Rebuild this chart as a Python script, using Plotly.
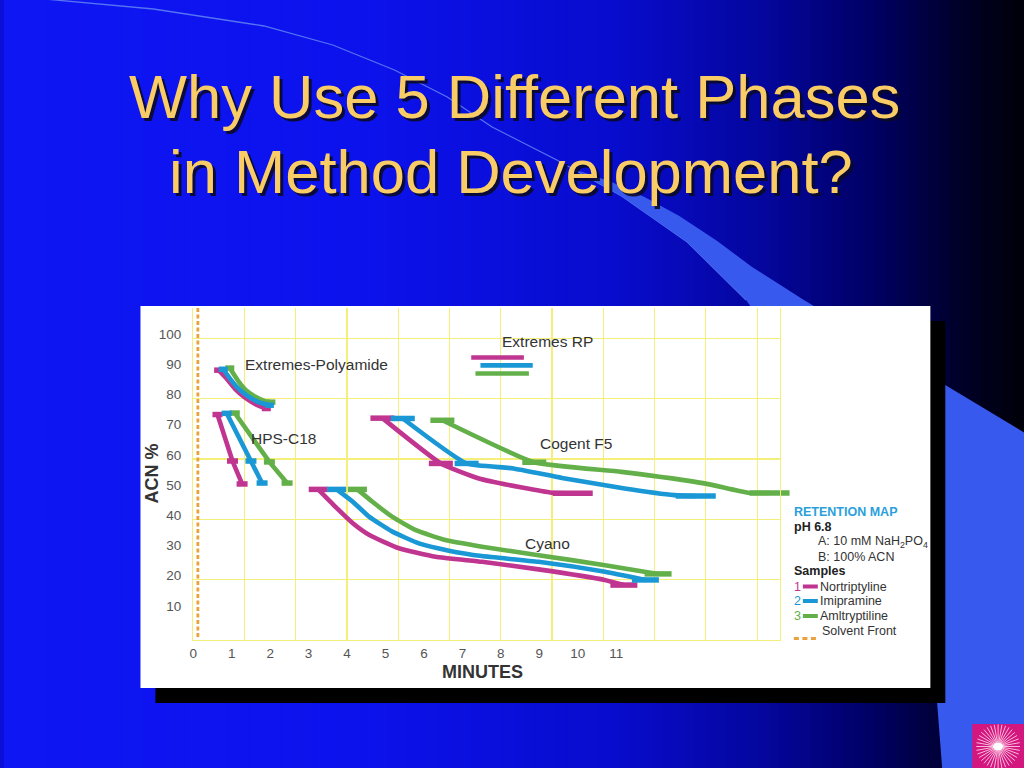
import math
import plotly.graph_objects as go

W, H = 1024, 768

# ---------------- data ----------------
SAMPLES = ["Nortriptyline", "Imipramine", "Amltryptiline"]
SAMPLE_NO = ["1", "2", "3"]

TICKS_X = [0, 1, 2, 3, 4, 5, 6, 7, 8, 9, 10, 11]
TICKS_Y = [10, 20, 30, 40, 50, 60, 70, 80, 90, 100]

polyamide_x = {
    "Nortriptyline": [0.66, 0.86, 1.08, 1.34, 1.64, 1.90],
    "Imipramine":    [0.78, 0.92, 1.13, 1.40, 1.70, 1.98],
    "Amltryptiline": [0.95, 1.17, 1.37, 1.63, 1.87, 2.02],
}
polyamide_y = {
    "Nortriptyline": [89.4, 86.7, 83.3, 80.4, 78.0, 76.7],
    "Imipramine":    [89.7, 87.2, 83.9, 81.0, 78.8, 77.8],
    "Amltryptiline": [90.1, 85.8, 82.8, 80.5, 79.1, 78.8],
}

hps_x = {
    "Nortriptyline": [0.63, 1.02, 1.27],
    "Imipramine":    [0.87, 1.50, 1.79],
    "Amltryptiline": [1.08, 1.98, 2.44],
}
hps_y = {
    "Nortriptyline": [74.7, 59.3, 51.7],
    "Imipramine":    [75.1, 59.3, 52.0],
    "Amltryptiline": [75.2, 59.0, 52.0],
}

rp_x = {
    "Nortriptyline": [7.23, 8.60],
    "Imipramine":    [7.47, 8.83],
    "Amltryptiline": [7.34, 8.73],
}
rp_y = {
    "Nortriptyline": [93.6, 93.6],
    "Imipramine":    [91.0, 91.0],
    "Amltryptiline": [88.3, 88.3],
}

cogent_x = {
    "Nortriptyline": [4.92, 6.44, 7.43, 8.55, 9.33, 9.87],
    "Imipramine":    [5.45, 7.11, 8.29, 9.59, 11.22, 12.51, 13.07],
    "Amltryptiline": [6.48, 8.87, 11.14, 13.29, 14.43, 14.99],
}
cogent_y = {
    "Nortriptyline": [73.5, 58.5, 53.5, 50.5, 48.8, 48.6],
    "Imipramine":    [73.4, 58.5, 56.9, 53.7, 50.2, 48.0, 47.7],
    "Amltryptiline": [72.8, 58.9, 55.7, 51.9, 48.8, 48.7],
}

cyano_x = {
    "Nortriptyline": [3.25, 3.70, 4.15, 4.58, 5.35, 6.30, 7.51, 8.98, 10.70, 11.20],
    "Imipramine":    [3.73, 4.15, 4.58, 5.18, 5.87, 6.65, 7.51, 8.98, 10.71, 11.76],
    "Amltryptiline": [4.27, 4.66, 5.18, 5.79, 6.56, 7.51, 8.98, 10.71, 12.09],
}
cyano_y = {
    "Nortriptyline": [49.9, 44.1, 38.7, 34.8, 30.4, 27.6, 25.9, 23.4, 19.9, 18.2],
    "Imipramine":    [49.9, 45.8, 40.8, 35.9, 32.0, 29.6, 27.8, 25.9, 22.6, 19.9],
    "Amltryptiline": [49.9, 45.8, 40.8, 36.4, 33.1, 30.9, 28.1, 24.8, 21.9],
}

SOLVENT_FRONT = 0.12
SOLVENT_Y = [1, 110]

PHASE_LABELS = ["Extremes-Polyamide", "Extremes RP", "HPS-C18", "Cogent F5", "Cyano"]
LABEL_X = [3.20, 9.22, 2.34, 9.95, 9.22]
LABEL_Y = [91.4, 99.0, 66.6, 65.2, 32.1]

TITLE_LINES = ["Why Use 5 Different Phases", "in Method Development?"]

# ---------------- styles ----------------
COLORS = {"Nortriptyline": "#bf3590", "Imipramine": "#1a98d5", "Amltryptiline": "#63b04a"}
ORANGE = "#eba23c"
GRID = "#f4ef7a"
FONT = "Liberation Sans, Arial, sans-serif"
TXT = "#333333"

# phase: (x dict, y dict, cap point indices, cap lengths px, line shape)
PHASES = [
    (polyamide_x, polyamide_y, [0, -1], [9, 9], "spline"),
    (hps_x, hps_y, [0, 1, 2], [10, 11, 11], "linear"),
    (rp_x, rp_y, [], [], "linear"),
    (cogent_x, cogent_y, [0, 1, -1], [24, 24, 40], "spline"),
    (cyano_x, cyano_y, [0, -1], [19, 27], "spline"),
]

X_RANGE = [0, 15.26]
Y_RANGE = [0, 110]


def px(x):
    return x / W


def py(y):
    return 1 - y / H


fig = go.Figure()

draw_order = ["Amltryptiline", "Nortriptyline", "Imipramine"]
for xs, ys, caps, capl, shape in PHASES:
    for s in draw_order:
        line = dict(color=COLORS[s], width=4.6, shape=shape)
        if shape == "spline":
            line["smoothing"] = 0.45
        fig.add_trace(go.Scatter(x=xs[s], y=ys[s], mode="lines", line=line,
                                 cliponaxis=False, hoverinfo="skip", showlegend=False))
        if caps:
            fig.add_trace(go.Scatter(
                x=[xs[s][i] for i in caps], y=[ys[s][i] for i in caps], mode="markers",
                marker=dict(symbol="line-ew", size=[c / 1.4 for c in capl], opacity=1,
                            line=dict(color=COLORS[s], width=5.5)),
                cliponaxis=False, hoverinfo="skip", showlegend=False))

fig.add_trace(go.Scatter(x=[SOLVENT_FRONT, SOLVENT_FRONT], y=SOLVENT_Y, mode="lines",
                         line=dict(color=ORANGE, width=2.8, dash="4px,2.5px"),
                         hoverinfo="skip", showlegend=False))
# invisible trace to create the grid overlay axes
fig.add_trace(go.Scatter(x=[None], y=[None], xaxis="x2", yaxis="y2", showlegend=False,
                         hoverinfo="skip"))

# ---------------- background shapes ----------------
shapes = []
stops = [(0.0, (14, 22, 244)), (0.35, (12, 18, 236)), (0.6, (8, 12, 205)),
         (0.75, (4, 6, 155)), (0.86, (0, 0, 95)), (0.94, (0, 0, 40)), (1.0, (0, 0, 8))]


def grad(t):
    for (t0, c0), (t1, c1) in zip(stops[:-1], stops[1:]):
        if t0 <= t <= t1:
            f = (t - t0) / (t1 - t0)
            return "rgb(%d,%d,%d)" % tuple(round(a + (b - a) * f) for a, b in zip(c0, c1))
    return "rgb(0,0,8)"


N = 96
for i in range(N):
    shapes.append(dict(type="rect", xref="paper", yref="paper", layer="below",
                       x0=i / N, x1=(i + 1.3) / N, y0=0, y1=1,
                       fillcolor=grad((i + 0.5) / N), line=dict(width=0)))


def path(points, close=True):
    s = "M " + " L ".join("%.5f,%.5f" % (px(a), py(b)) for a, b in points)
    return s + (" Z" if close else "")


arc = [(30, -2), (150, 9), (261, 26), (330, 45), (392, 70), (445, 97), (490, 127),
       (555, 160), (620, 196), (686, 242), (745, 300)]
shapes.append(dict(type="path", xref="paper", yref="paper", layer="below",
                   path=path(arc, close=False), line=dict(color="#5573f2", width=1.3)))
wedge = [(575, 170), (620, 196), (686, 242), (745, 300), (830, 420), (900, 560),
         (935, 680), (942, 770), (1030, 770), (1030, 436), (803, 300), (751, 267),
         (716, 241), (678, 216), (643, 197), (610, 182)]
shapes.append(dict(type="path", xref="paper", yref="paper", layer="below",
                   path=path(wedge), fillcolor="#3759ee", line=dict(width=0)))

# chart panel with shadow
shapes.append(dict(type="rect", xref="paper", yref="paper", layer="below",
                   x0=px(152), x1=px(945), y0=py(703), y1=py(321),
                   fillcolor="#000000", line=dict(width=0)))
shapes.append(dict(type="rect", xref="paper", yref="paper", layer="below",
                   x0=px(137), x1=px(930), y0=py(688), y1=py(306),
                   fillcolor="#ffffff", line=dict(width=0)))

# legend swatches
sw_y = [586.5, 601, 616]
for s, yy in zip(SAMPLES, sw_y):
    shapes.append(dict(type="line", xref="paper", yref="paper", x0=px(802), x1=px(817),
                       y0=py(yy), y1=py(yy), line=dict(color=COLORS[s], width=4)))
shapes.append(dict(type="line", xref="paper", yref="paper", x0=px(793), x1=px(818),
                   y0=py(638.5), y1=py(638.5), line=dict(color=ORANGE, width=3, dash="5px,3.5px")))

# logo
shapes.append(dict(type="rect", xref="paper", yref="paper", x0=px(972), x1=px(1024),
                   y0=py(768), y1=py(724), fillcolor="#d4177f", line=dict(width=0)))
cx, cy = 998, 746.5
for k in range(36):
    a = 2 * math.pi * k / 36
    shapes.append(dict(type="line", xref="paper", yref="paper",
                       x0=px(cx + 4 * math.cos(a)), y0=py(cy + 4 * math.sin(a)),
                       x1=px(cx + 22 * math.cos(a)), y1=py(cy + 22 * math.sin(a)),
                       line=dict(color="rgba(255,215,235,0.85)", width=1)))
shapes.append(dict(type="circle", xref="paper", yref="paper", x0=px(cx - 5), x1=px(cx + 5),
                   y0=py(cy + 4), y1=py(cy - 4), fillcolor="#ffffff", line=dict(width=0)))

# ---------------- annotations ----------------
ann = []
title_y = [96, 171]
title_x = [513, 509]
for t, xx, yy in zip(TITLE_LINES, title_x, title_y):
    ann.append(dict(text=t, xref="paper", yref="paper", x=px(xx + 3), y=py(yy + 3),
                    showarrow=False, xanchor="center", yanchor="middle",
                    font=dict(family=FONT, size=61.5, color="rgba(10,10,40,0.9)")))
    ann.append(dict(text=t, xref="paper", yref="paper", x=px(xx), y=py(yy),
                    showarrow=False, xanchor="center", yanchor="middle",
                    font=dict(family=FONT, size=61.5, color="#f9cc66")))

for t, xx, yy in zip(PHASE_LABELS, LABEL_X, LABEL_Y):
    ann.append(dict(text=t, xref="x", yref="y", x=xx, y=yy, showarrow=False,
                    xanchor="center", yanchor="middle",
                    font=dict(family=FONT, size=15.5, color=TXT)))

ann.append(dict(text="<b>ACN %</b>", xref="paper", yref="paper", x=px(149), y=py(473),
                textangle=-90, showarrow=False, xanchor="center", yanchor="middle",
                font=dict(family=FONT, size=18, color=TXT)))
ann.append(dict(text="<b>MINUTES</b>", xref="paper", yref="paper", x=px(480), y=py(672),
                showarrow=False, xanchor="center", yanchor="middle",
                font=dict(family=FONT, size=18, color=TXT)))


def lg(text, x, y, color=TXT):
    ann.append(dict(text=text, xref="paper", yref="paper", x=px(x), y=py(y),
                    showarrow=False, xanchor="left", yanchor="middle",
                    font=dict(family=FONT, size=12.5, color=color)))


lg("<b>RETENTION MAP</b>", 791, 511.5, "#2b9fdc")
lg("<b>pH 6.8</b>", 791, 526.5, "#222222")
lg("A: 10 mM NaH<sub>2</sub>PO<sub>4</sub>", 815, 542)
lg("B: 100% ACN", 815, 556.5)
lg("<b>Samples</b>", 791, 571, "#222222")
for s, n, yy in zip(SAMPLES, SAMPLE_NO, sw_y):
    lg(n, 791, yy, COLORS[s])
    lg(s, 817, yy)
lg("Solvent Front", 819, 630.5)

fig.update_layout(
    width=W, height=H, autosize=False,
    margin=dict(l=0, r=0, t=0, b=0, pad=0),
    paper_bgcolor="#0a10d8", plot_bgcolor="rgba(0,0,0,0)",
    showlegend=False, hovermode=False,
    shapes=shapes, annotations=ann,
    xaxis=dict(domain=[px(190), px(779)], range=X_RANGE, tickmode="array", tickvals=TICKS_X,
               showgrid=False, zeroline=False, showline=True, linecolor=GRID, linewidth=1.3,
               ticks="", tickfont=dict(family=FONT, size=13.5, color="#555555"),
               ticklabelstandoff=0, fixedrange=True),
    yaxis=dict(domain=[py(640), py(308)], range=Y_RANGE, tickmode="array", tickvals=TICKS_Y,
               showgrid=False, zeroline=False, showline=True, mirror=True, linecolor=GRID,
               linewidth=1.3, ticks="", tickfont=dict(family=FONT, size=13.5, color="#555555"),
               ticklabelstandoff=8, ticklabelshift=-4, fixedrange=True),
    xaxis2=dict(overlaying="x", anchor="y2", range=X_RANGE, tickmode="linear", tick0=0,
                dtick=4 / 3, showgrid=True, gridcolor=GRID, gridwidth=1.2,
                showticklabels=False, ticks="", zeroline=False, showline=False, fixedrange=True),
    yaxis2=dict(overlaying="y", anchor="x2", range=Y_RANGE, tickmode="linear", tick0=0,
                dtick=20, showgrid=True, gridcolor=GRID, gridwidth=1.2,
                showticklabels=False, ticks="", zeroline=False, showline=False, fixedrange=True),
)

fig.write_html("out.html", config={"displayModeBar": False, "staticPlot": True},
               post_script="document.body.style.margin='0px';"
                           "document.documentElement.style.overflow='hidden';")
